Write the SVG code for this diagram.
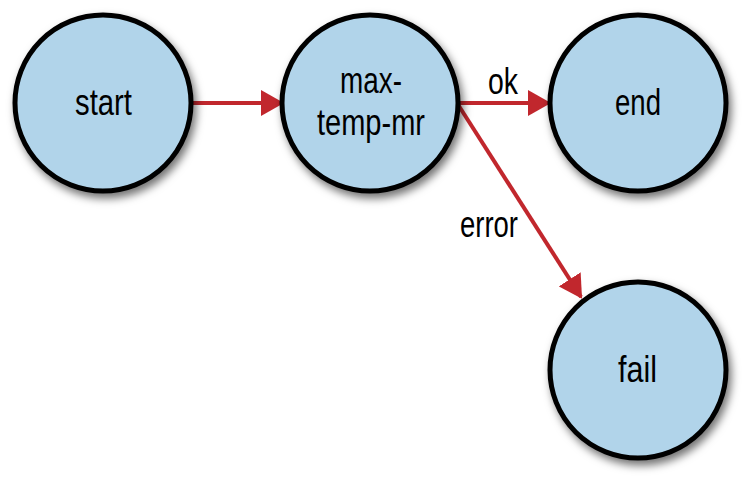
<svg xmlns="http://www.w3.org/2000/svg" width="755" height="488" viewBox="0 0 755 488">
<style>
.node circle{fill:#b1d4ea;stroke:#000;stroke-width:5;filter:url(#sh)}
text{font-family:"Liberation Sans",Arial,sans-serif;font-size:37px;fill:#000}
.edge{stroke:#c1272d;stroke-width:4;fill:none;marker-end:url(#ah)}
</style>
<defs>
<filter id="sh" x="-20%" y="-20%" width="150%" height="150%">
<feDropShadow dx="3" dy="5" stdDeviation="4" flood-color="#000" flood-opacity="0.55"/>
</filter>
<marker id="ah" viewBox="0 0 23 26" refX="21" refY="13" markerWidth="23" markerHeight="26" markerUnits="userSpaceOnUse" orient="auto">
<path d="M0,0 L23,13 L0,26 Z" fill="#c1272d"/>
</marker>
</defs>
<rect width="755" height="488" fill="#fff"/>
<g id="connectors">
<line class="edge" x1="192" y1="103" x2="282" y2="103"/>
<line class="edge" x1="457" y1="103" x2="549" y2="103"/>
<line class="edge" x1="457" y1="103" x2="581" y2="297"/>
<text x="488" y="94" textLength="30" lengthAdjust="spacingAndGlyphs">ok</text>
<text x="460" y="237" textLength="58" lengthAdjust="spacingAndGlyphs">error</text>
</g>
<g id="start" class="node">
<circle cx="103" cy="103" r="88"/>
<text x="75" y="115" textLength="57" lengthAdjust="spacingAndGlyphs">start</text>
</g>
<g id="max-temp-mr" class="node">
<circle cx="370" cy="103" r="88"/>
<text x="340" y="93" textLength="62" lengthAdjust="spacingAndGlyphs">max-</text>
<text x="317" y="135" textLength="108" lengthAdjust="spacingAndGlyphs">temp-mr</text>
</g>
<g id="end" class="node">
<circle cx="638" cy="103" r="88"/>
<text x="615" y="115" textLength="46" lengthAdjust="spacingAndGlyphs">end</text>
</g>
<g id="fail" class="node">
<circle cx="638" cy="370" r="88"/>
<text x="618" y="382" textLength="39" lengthAdjust="spacingAndGlyphs">fail</text>
</g>
</svg>
